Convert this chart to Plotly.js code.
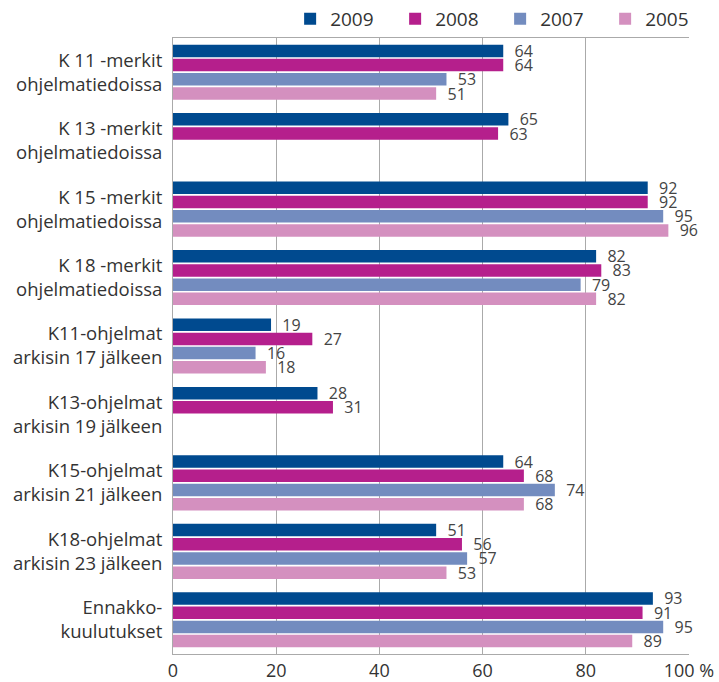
<!DOCTYPE html>
<html>
<head>
<meta charset="utf-8">
<script src="https://cdn.plot.ly/plotly-3.0.1.min.js"></script>
<style>html,body{margin:0;padding:0;background:#fff;}#chart{width:719px;height:682px;}</style>
</head>
<body>
<div id="chart"></div>
<script>
const categories = [
  "K 11 -merkit<br>ohjelmatiedoissa",
  "K 13 -merkit<br>ohjelmatiedoissa",
  "K 15 -merkit<br>ohjelmatiedoissa",
  "K 18 -merkit<br>ohjelmatiedoissa",
  "K11-ohjelmat<br>arkisin 17 jälkeen",
  "K13-ohjelmat<br>arkisin 19 jälkeen",
  "K15-ohjelmat<br>arkisin 21 jälkeen",
  "K18-ohjelmat<br>arkisin 23 jälkeen",
  "Ennakko-<br>kuulutukset"
];
const seriesNames = ["2009", "2008", "2007", "2005"];
const v2009 = [64, 65, 92, 82, 19, 28, 64, 51, 93];
const v2008 = [64, 63, 92, 83, 27, 31, 68, 56, 91];
const v2007 = [53, null, 95, 79, 16, null, 74, 57, 95];
const v2005 = [51, null, 96, 82, 18, null, 68, 53, 89];
const tickVals = [0, 20, 40, 60, 80, 100];
const tickText = ["0", "20", "40", "60", "80", "100 %"];

const colors = ["#004a8f", "#b51f8c", "#738cbf", "#d490bf"];
const allValues = [v2009, v2008, v2007, v2005];

const data = allValues.map((vals, i) => ({
  type: "bar",
  orientation: "h",
  name: seriesNames[i],
  y: categories,
  x: vals,
  marker: {color: colors[i], line: {width: 0}},
  text: vals.map(v => v === null ? "" : String(v)),
  texttemplate: "\u00a0\u00a0%{text}",
  textposition: "outside",
  constraintext: "none",
  cliponaxis: false,
  textfont: {family: "Open Sans, sans-serif", size: 16, color: "#444"},
  hoverinfo: "x+name"
}));

const layout = {
  width: 719,
  height: 682,
  margin: {l: 173, r: 30, t: 38, b: 28, autoexpand: false},
  paper_bgcolor: "#fff",
  plot_bgcolor: "#fff",
  font: {family: "Open Sans, sans-serif", size: 18, color: "#333"},
  barmode: "group",
  bargap: 0.17,
  bargroupgap: 0.12,
  showlegend: true,
  legend: {
    orientation: "h",
    x: 0.227, xanchor: "left",
    y: 1.0, yanchor: "bottom",
    traceorder: "normal",
    itemwidth: 30,
    entrywidth: 60,
    entrywidthmode: "pixels",
    font: {size: 19, color: "#333"},
    bgcolor: "rgba(0,0,0,0)"
  },
  xaxis: {
    range: [0, 100],
    tickvals: tickVals,
    ticktext: tickText,
    showgrid: true,
    gridcolor: "#aaa",
    gridwidth: 1,
    zeroline: false,
    showline: true,
    linecolor: "#aaa",
    linewidth: 1,
    mirror: true,
    ticks: "",
    tickfont: {size: 18, color: "#333"},
    fixedrange: true
  },
  yaxis: {
    autorange: "reversed",
    type: "category",
    showgrid: false,
    zeroline: false,
    showline: true,
    linecolor: "#aaa",
    linewidth: 1,
    ticks: "outside",
    ticklen: 6,
    tickcolor: "rgba(0,0,0,0)",
    tickfont: {size: 18.5, color: "#333"},
    fixedrange: true
  }
};

Plotly.newPlot("chart", data, layout, {displayModeBar: false, staticPlot: true});
</script>
</body>
</html>
